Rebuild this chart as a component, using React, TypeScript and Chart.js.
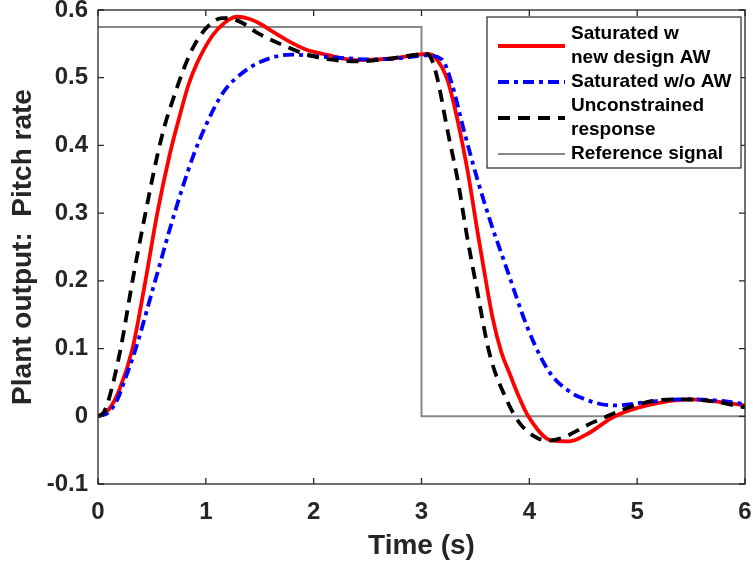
import React, { useEffect, useRef } from "react";
import { Chart, registerables } from "chart.js";

Chart.register(...registerables);

// ---- data ----
const redT = [0, 0.1, 0.2, 0.32, 0.44, 0.55, 0.67, 0.76, 0.84, 0.92, 1.06, 1.18, 1.29, 1.4, 1.5, 1.62, 1.78, 1.94, 2.09, 2.25, 2.4, 2.7, 3.05, 3.12, 3.24, 3.34, 3.43, 3.52, 3.57, 3.66, 3.74, 3.82, 3.9, 3.99, 4.21, 4.37, 4.55, 4.78, 5.09, 5.49, 6.0];
const redV = [0, 0.01, 0.04, 0.1, 0.2, 0.3, 0.39, 0.445, 0.49, 0.522, 0.562, 0.582, 0.59, 0.587, 0.58, 0.568, 0.553, 0.541, 0.535, 0.529, 0.526, 0.528, 0.535, 0.531, 0.497, 0.433, 0.36, 0.272, 0.225, 0.145, 0.095, 0.062, 0.03, 0.0, -0.036, -0.037, -0.025, -0.001, 0.016, 0.025, 0.016];

const blueT = [0, 0.1, 0.18, 0.24, 0.35, 0.53, 0.71, 0.88, 1.01, 1.16, 1.38, 1.62, 1.8, 2.09, 2.55, 2.8, 3.05, 3.19, 3.28, 3.4, 3.52, 3.64, 3.72, 3.79, 3.98, 4.12, 4.22, 4.36, 4.47, 4.78, 5.09, 5.39, 5.7, 6.0];
const blueV = [0, 0.006, 0.025, 0.05, 0.1, 0.2, 0.3, 0.383, 0.433, 0.478, 0.512, 0.53, 0.534, 0.531, 0.527, 0.529, 0.533, 0.527, 0.492, 0.418, 0.349, 0.287, 0.25, 0.218, 0.132, 0.083, 0.058, 0.038, 0.028, 0.016, 0.021, 0.025, 0.024, 0.018];

const blackT = [0, 0.05, 0.1, 0.21, 0.32, 0.44, 0.55, 0.62, 0.7, 0.8, 0.9, 1.04, 1.15, 1.24, 1.35, 1.47, 1.66, 1.94, 2.15, 2.4, 2.7, 3.05, 3.1, 3.15, 3.24, 3.34, 3.42, 3.51, 3.63, 3.79, 3.91, 4.05, 4.17, 4.3, 4.59, 5.09, 5.39, 5.7, 6.0];
const blackV = [0, 0.005, 0.025, 0.1, 0.2, 0.3, 0.385, 0.43, 0.47, 0.515, 0.55, 0.579, 0.588, 0.587, 0.58, 0.567, 0.552, 0.534, 0.527, 0.524, 0.528, 0.535, 0.525, 0.497, 0.423, 0.345, 0.268, 0.191, 0.093, 0.024, -0.01, -0.03, -0.036, -0.032, -0.009, 0.021, 0.025, 0.022, 0.013];

const refT = [0, 3, 3, 6];
const refV = [0.575, 0.575, 0, 0];

const xTicks = [0, 1, 2, 3, 4, 5, 6];
const yTicks = [-0.1, 0, 0.1, 0.2, 0.3, 0.4, 0.5, 0.6];

const legendLabels = [
  ["Saturated w", "new design AW"],
  ["Saturated w/o AW"],
  ["Unconstrained", "response"],
  ["Reference signal"],
];
const xTitle = "Time (s)";
const yTitle = "Plant output:  Pitch rate";

const FONT = "'Liberation Sans', Arial, Helvetica, sans-serif";
const TEXT = "#262626";

const pts = (t: number[], v: number[]) => t.map((x, i) => ({ x, y: v[i] }));

const framePlugin = {
  id: "frame",
  afterDraw(chart: any) {
    const { ctx, chartArea: a, scales } = chart;
    ctx.save();
    ctx.strokeStyle = TEXT;
    ctx.lineWidth = 1.3;
    ctx.setLineDash([]);
    ctx.strokeRect(a.left, a.top, a.right - a.left, a.bottom - a.top);
    const tl = 6;
    ctx.beginPath();
    for (const v of xTicks) {
      const px = scales.x.getPixelForValue(v);
      ctx.moveTo(px, a.bottom);
      ctx.lineTo(px, a.bottom - tl);
      ctx.moveTo(px, a.top);
      ctx.lineTo(px, a.top + tl);
    }
    for (const v of yTicks) {
      const py = scales.y.getPixelForValue(v);
      ctx.moveTo(a.left, py);
      ctx.lineTo(a.left + tl, py);
      ctx.moveTo(a.right, py);
      ctx.lineTo(a.right - tl, py);
    }
    ctx.stroke();

    // legend
    const boxW = 254;
    const boxH = 151;
    const bx = a.right - 4 - boxW;
    const by = a.top + 7;
    ctx.fillStyle = "#ffffff";
    ctx.fillRect(bx, by, boxW, boxH);
    ctx.lineWidth = 1.2;
    ctx.strokeStyle = TEXT;
    ctx.strokeRect(bx, by, boxW, boxH);

    const order = [2, 1, 0, 3]; // dataset indices for legend rows
    const lineH = 24;
    let row = 0;
    ctx.font = `bold 19px ${FONT}`;
    ctx.textBaseline = "middle";
    ctx.textAlign = "left";
    legendLabels.forEach((lines, k) => {
      const ds = chart.data.datasets[order[k]];
      const firstY = by + 17 + row * lineH;
      const midY = firstY + ((lines.length - 1) * lineH) / 2;
      ctx.save();
      ctx.strokeStyle = ds.borderColor;
      ctx.lineWidth = ds.borderWidth;
      ctx.setLineDash(ds.borderDash || []);
      ctx.beginPath();
      ctx.moveTo(bx + 11, midY);
      ctx.lineTo(bx + 78, midY);
      ctx.stroke();
      ctx.restore();
      ctx.fillStyle = "#000000";
      lines.forEach((s, j) => {
        ctx.fillText(s, bx + 84, firstY + j * lineH);
      });
      row += lines.length;
    });
    ctx.restore();
  },
};

export default function App() {
  const ref = useRef<HTMLCanvasElement | null>(null);
  useEffect(() => {
    document.body.style.margin = "0";
    const canvas = ref.current!;
    const tickFont = { family: FONT, size: 24, weight: "bold" as const };
    const titleFont = { family: FONT, size: 28, weight: "bold" as const };
    const chart = new Chart(canvas, {
      type: "line",
      data: {
        datasets: [
          {
            label: "Unconstrained response",
            data: pts(blackT, blackV),
            borderColor: "#000000",
            borderWidth: 3.8,
            borderDash: [12, 8],
            pointRadius: 0,
            cubicInterpolationMode: "monotone",
            fill: false,
          },
          {
            label: "Saturated w/o AW",
            data: pts(blueT, blueV),
            borderColor: "#0000ff",
            borderWidth: 3.8,
            borderDash: [11, 5, 4, 5],
            pointRadius: 0,
            cubicInterpolationMode: "monotone",
            fill: false,
          },
          {
            label: "Saturated w new design AW",
            data: pts(redT, redV),
            borderColor: "#ff0000",
            borderWidth: 3.8,
            pointRadius: 0,
            cubicInterpolationMode: "monotone",
            fill: false,
          },
          {
            label: "Reference signal",
            data: pts(refT, refV),
            borderColor: "#888888",
            borderWidth: 2,
            pointRadius: 0,
            tension: 0,
            fill: false,
          },
        ] as any,
      },
      options: {
        responsive: false,
        animation: false,
        devicePixelRatio: 1,
        layout: { padding: { top: 10, right: 8, left: 0, bottom: 0 } },
        plugins: { legend: { display: false }, tooltip: { enabled: false } },
        scales: {
          x: {
            type: "linear",
            min: 0,
            max: 6,
            afterBuildTicks: (s: any) => {
              s.ticks = xTicks.map((v) => ({ value: v }));
            },
            afterFit: (s: any) => {
              s.height = 81;
              s.paddingLeft = 0;
              s.paddingRight = 0;
            },
            grid: { display: false, drawTicks: false },
            border: { display: false },
            ticks: {
              font: tickFont,
              color: TEXT,
              padding: 14,
              maxRotation: 0,
              autoSkip: false,
              callback: (v: any) => String(v),
            },
            title: {
              display: true,
              text: xTitle,
              font: titleFont,
              color: TEXT,
              padding: { top: 0, bottom: 2 },
            },
          },
          y: {
            type: "linear",
            min: -0.1,
            max: 0.6,
            afterBuildTicks: (s: any) => {
              s.ticks = yTicks.map((v) => ({ value: v }));
            },
            afterFit: (s: any) => {
              s.width = 98;
              s.paddingTop = 0;
              s.paddingBottom = 0;
            },
            grid: { display: false, drawTicks: false },
            border: { display: false },
            ticks: {
              font: tickFont,
              color: TEXT,
              padding: 10,
              autoSkip: false,
              callback: (v: any) => String(Math.round(Number(v) * 10) / 10),
            },
            title: {
              display: true,
              text: yTitle,
              font: titleFont,
              color: TEXT,
              padding: { top: 6, bottom: 0 },
            },
          },
        },
      } as any,
      plugins: [framePlugin],
    });
    return () => chart.destroy();
  }, []);
  return (
    <div style={{ width: 753, height: 565, position: "relative", background: "#fff" }}>
      <canvas ref={ref} width={753} height={565} style={{ width: 753, height: 565, display: "block" }} />
    </div>
  );
}
